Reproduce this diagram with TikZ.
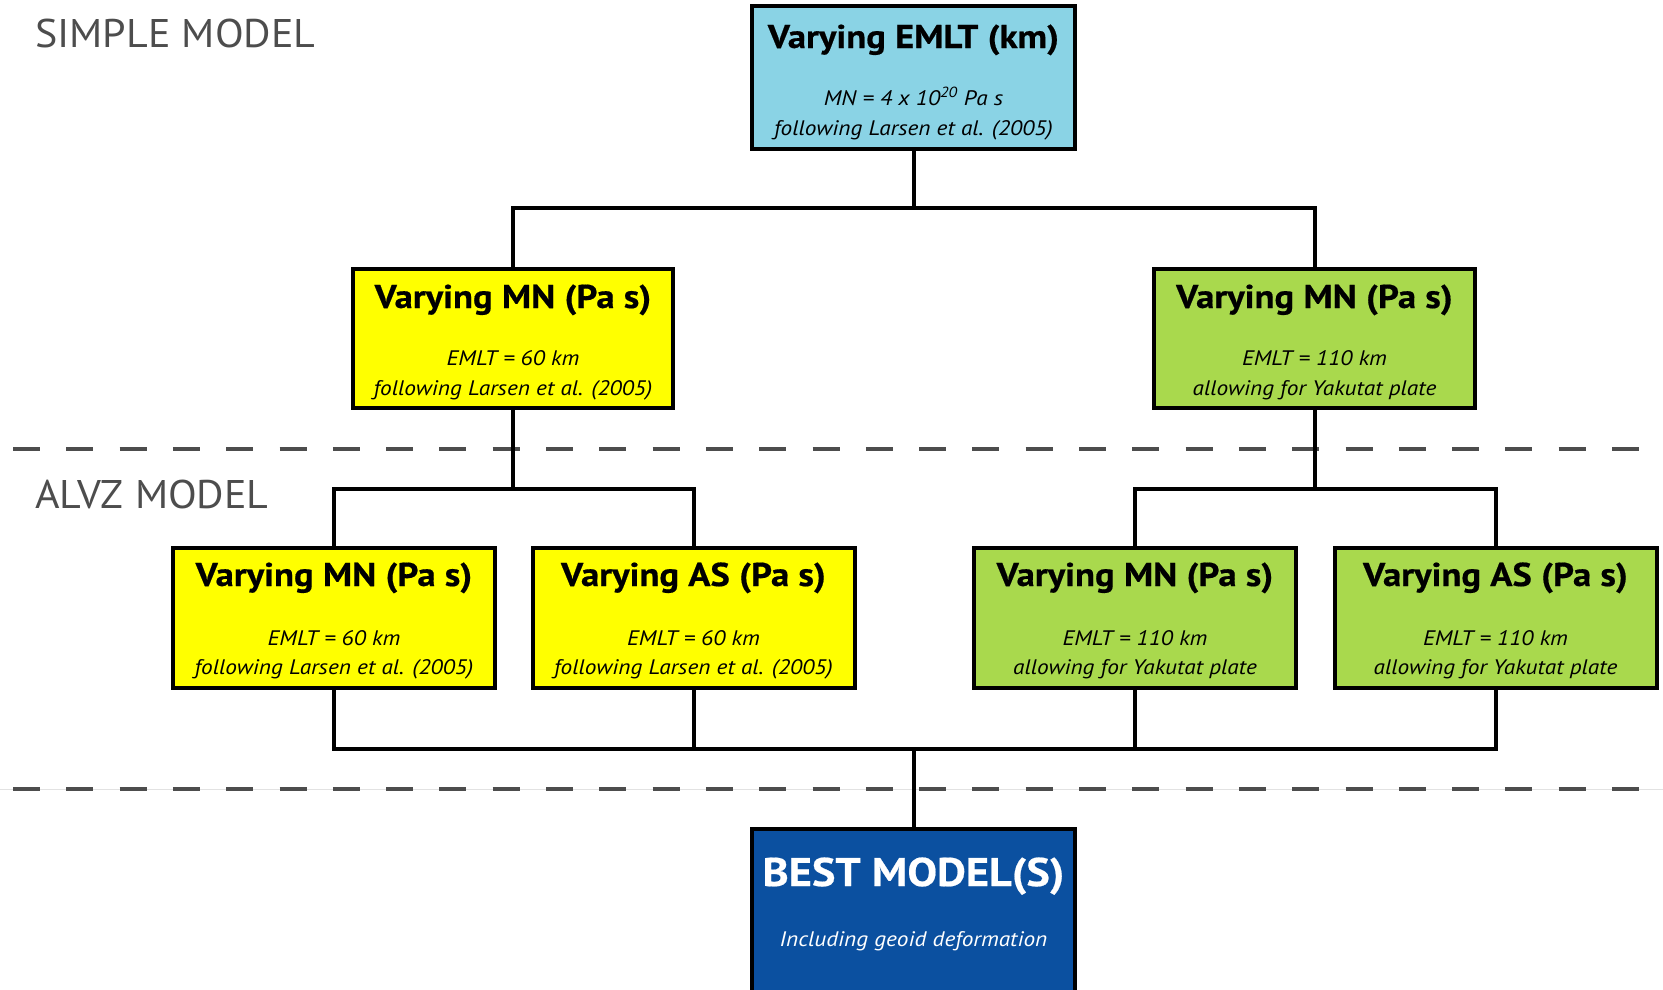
\documentclass[tikz,border=0pt]{standalone}
\usepackage{fontspec}
\setmainfont{PT Sans}[FakeStretch=1.11, BoldFeatures={FakeBold=0.5}]
\newfontfamily\sectfont{PT Sans}[FakeStretch=1.05]
\definecolor{cyanbox}{HTML}{8AD3E5}
\definecolor{yelbox}{HTML}{FFFF00}
\definecolor{grnbox}{HTML}{A9D94D}
\definecolor{bluebox}{HTML}{0B50A0}
\definecolor{dashgray}{HTML}{4D4D4D}
\definecolor{faintgray}{HTML}{E2E2E2}
\tikzset{
  box/.style={draw=black, line width=4pt, rectangle, inner sep=0pt, minimum width=322pt, minimum height=140pt},
  ttl/.style={anchor=base, inner sep=0pt, font=\fontsize{33}{36}\selectfont\bfseries},
  sub/.style={anchor=base, inner sep=0pt, font=\fontsize{21}{29}\selectfont\itshape},
  sect/.style={anchor=base west, inner sep=0pt, text=dashgray, font=\sectfont\fontsize{40}{44}\selectfont},
  conn/.style={draw=black, line width=4pt, line join=miter},
  sep/.style={draw=dashgray, line width=4pt, dash pattern=on 27pt off 26.3pt}
}
\begin{document}
\begin{tikzpicture}[x=1pt,y=-1pt]
\useasboundingbox (0,0) rectangle (1663,989);
\clip (0,0) rectangle (1663,989);
% separators
\draw[draw=faintgray, line width=1pt] (0,789) -- (1663,789);
\draw[sep] (13,449) -- (1663,449);
\draw[sep] (13,789) -- (1663,789);
% section labels
\node[sect] (simple) at (35,47) {SIMPLE MODEL};
\node[sect] (alvz) at (35,508) {ALVZ MODEL};
% boxes
\node[box, fill=cyanbox, minimum height=143pt, minimum width=323pt] (top) at (913.5,77.5) {};
\node[box, fill=yelbox, minimum height=139pt, minimum width=320pt] (ml) at (513,338.5) {};
\node[box, fill=grnbox, minimum height=139pt, minimum width=321pt] (mr) at (1314.5,338.5) {};
\node[box, fill=yelbox] (b1) at (334,618) {};
\node[box, fill=yelbox] (b2) at (693.5,618) {};
\node[box, fill=grnbox] (b3) at (1135,618) {};
\node[box, fill=grnbox] (b4) at (1495.5,618) {};
\node[box, fill=bluebox, minimum height=200pt, minimum width=323pt] (best) at (913.5,929) {};
% texts
\node[ttl] (topt) at ([yshift=-44pt]top.north) {Varying EMLT (km)};
\node[sub] (tops1) at ([yshift=-101pt]top.north) {MN = 4 x 10\textsuperscript{20} Pa s};
\node[sub] (tops2) at ([yshift=-131pt]top.north) {following Larsen et al. (2005)};
\node[ttl] (mlt) at ([yshift=-41pt]ml.north) {Varying MN (Pa s)};
\node[sub] (mls1) at ([yshift=-98pt]ml.north) {EMLT = 60 km};
\node[sub] (mls2) at ([yshift=-128pt]ml.north) {following Larsen et al. (2005)};
\node[ttl] (mrt) at ([yshift=-41pt]mr.north) {Varying MN (Pa s)};
\node[sub] (mrs1) at ([yshift=-98pt]mr.north) {EMLT = 110 km};
\node[sub] (mrs2) at ([yshift=-128pt]mr.north) {allowing for Yakutat plate};
\node[ttl] (b1t) at ([yshift=-40pt]b1.north) {Varying MN (Pa s)};
\node[sub] (b1s1) at ([yshift=-99pt]b1.north) {EMLT = 60 km};
\node[sub] (b1s2) at ([yshift=-128pt]b1.north) {following Larsen et al. (2005)};
\node[ttl] (b2t) at ([yshift=-40pt]b2.north) {Varying AS (Pa s)};
\node[sub] (b2s1) at ([yshift=-99pt]b2.north) {EMLT = 60 km};
\node[sub] (b2s2) at ([yshift=-128pt]b2.north) {following Larsen et al. (2005)};
\node[ttl] (b3t) at ([yshift=-40pt]b3.north) {Varying MN (Pa s)};
\node[sub] (b3s1) at ([yshift=-99pt]b3.north) {EMLT = 110 km};
\node[sub] (b3s2) at ([yshift=-128pt]b3.north) {allowing for Yakutat plate};
\node[ttl] (b4t) at ([yshift=-40pt]b4.north) {Varying AS (Pa s)};
\node[sub] (b4s1) at ([yshift=-99pt]b4.north) {EMLT = 110 km};
\node[sub] (b4s2) at ([yshift=-128pt]b4.north) {allowing for Yakutat plate};
\node[ttl, text=white, font=\fontsize{40}{43}\selectfont\bfseries] (bestt) at ([yshift=-59pt]best.north) {BEST MODEL(S)};
\node[sub, text=white] (bests) at ([yshift=-119pt]best.north) {Including geoid deformation};
% connectors
\coordinate (j1) at (913.5,208);
\coordinate (j2) at (513,489);
\coordinate (j3) at (1314.5,489);
\coordinate (j4) at (913.5,749);
\draw[conn] (top.south) -- (j1);
\draw[conn] (ml.north) |- (j1) -| (mr.north);
\draw[conn] (ml.south) -- (j2);
\draw[conn] (b1.north) |- (j2) -| (b2.north);
\draw[conn] (mr.south) -- (j3);
\draw[conn] (b3.north) |- (j3) -| (b4.north);
\draw[conn] (b1.south) |- (j4) -| (b4.south);
\draw[conn] (b2.south) -- (b2.south |- j4);
\draw[conn] (b3.south) -- (b3.south |- j4);
\draw[conn] (j4) -- (best.north);
\end{tikzpicture}
\end{document}
